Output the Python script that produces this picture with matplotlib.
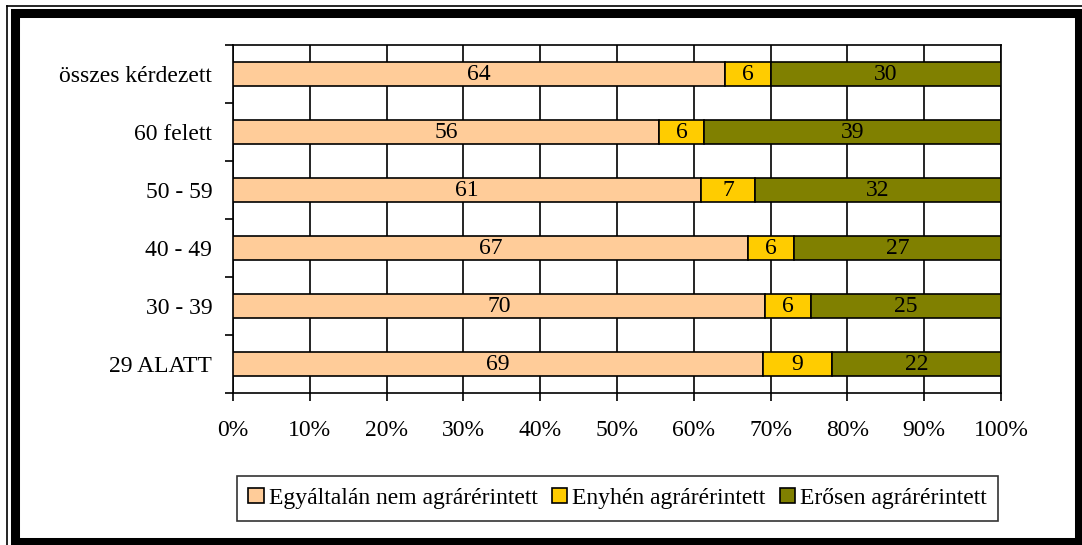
import matplotlib
matplotlib.use("Agg")
import matplotlib.pyplot as plt
from matplotlib.patches import Rectangle
from matplotlib.lines import Line2D
import numpy as np

categories = ["összes kérdezett", "60 felett", "50 - 59", "40 - 49", "30 - 39", "29 ALATT"]
series_names = ["Egyáltalán nem agrárérintett", "Enyhén agrárérintett", "Erősen agrárérintett"]
nem = [64, 56, 61, 67, 70, 69]
enyhen = [6, 6, 7, 6, 6, 9]
erosen = [30, 39, 32, 27, 25, 22]
colors = ["#FFCC99", "#FFCC00", "#808000"]
xticklabels = ["0%", "10%", "20%", "30%", "40%", "50%", "60%", "70%", "80%", "90%", "100%"]

plt.rcParams['font.family'] = ['Liberation Serif', 'DejaVu Serif']

W, H = 1082, 545
FS = 17
fig = plt.figure(figsize=(W / 100, H / 100), dpi=100)
ax = fig.add_axes([233 / W, 1 - 393 / H, (1001 - 233) / W, (393 - 45) / H])

data = np.array([nem, enyhen, erosen], dtype=float)
totals = data.sum(axis=0)
pct = data / totals * 100
y = np.arange(len(categories))
left = np.zeros(len(categories))
lw = 1.2
for i in range(3):
    ax.barh(y, pct[i], left=left, height=0.4, color=colors[i], edgecolor="black",
            linewidth=lw, label=series_names[i], zorder=3)
    for j in range(len(categories)):
        ax.text(left[j] + pct[i][j] / 2, y[j], f"{int(data[i][j])}", ha="center", va="center",
                fontsize=FS, color="black", zorder=4)
    left += pct[i]

ax.set_xlim(0, 100)
ax.set_ylim(len(categories) - 0.5, -0.5)
ax.set_xticks(np.arange(0, 101, 10))
ax.set_xticklabels(xticklabels, fontsize=FS)
ax.set_yticks(y)
ax.set_yticklabels(categories, fontsize=FS)
ax.set_yticks(np.arange(-0.5, len(categories), 1), minor=True)
ax.tick_params(axis="y", which="major", length=0, pad=15)
ax.tick_params(axis="y", which="minor", length=6, width=lw, direction="out")
ax.tick_params(axis="x", which="major", length=6, width=lw, direction="out", pad=13.5)
ax.xaxis.grid(True, color="black", linewidth=lw, zorder=1)
ax.set_axisbelow(True)
for s in ax.spines.values():
    s.set_linewidth(lw)
    s.set_color("black")

leg = ax.legend(loc="upper center", bbox_to_anchor=(0.5007, -0.2385), ncol=3, fontsize=FS,
                frameon=True, fancybox=False, edgecolor="black", handlelength=0.64,
                handleheight=0.64, handletextpad=0.22, columnspacing=0.6, borderpad=0.5,
                borderaxespad=0)
leg.get_frame().set_linewidth(1.2)
for p in leg.get_patches():
    p.set_edgecolor("black")
    p.set_linewidth(1.2)

# outer frame
fig.patches.append(Rectangle((14.5 / W, 1 - 541.5 / H), (1078.5 - 14.5) / W, (541.5 - 12.5) / H,
                             transform=fig.transFigure, fill=False, edgecolor="black",
                             linewidth=6.5, zorder=10))
fig.lines.append(Line2D([6.5 / W, 6.5 / W], [0, 1 - 5.5 / H], transform=fig.transFigure,
                        color="black", linewidth=1.2))
fig.lines.append(Line2D([6.5 / W, 1], [1 - 5.5 / H, 1 - 5.5 / H], transform=fig.transFigure,
                        color="black", linewidth=1.2))

fig.savefig("out.png", dpi=100)
